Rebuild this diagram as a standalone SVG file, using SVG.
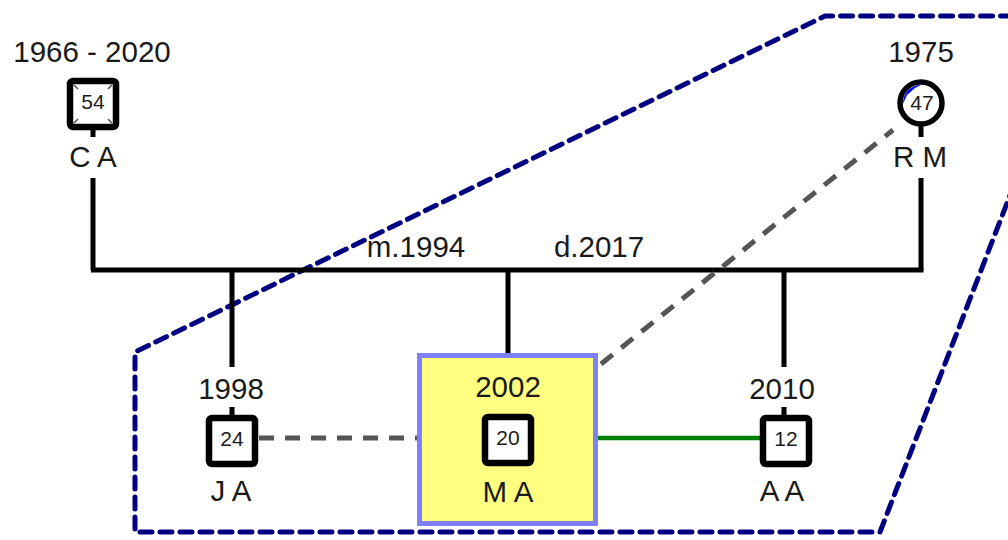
<svg xmlns="http://www.w3.org/2000/svg" width="1008" height="540" viewBox="0 0 1008 540">
<style>
  text { font-family: "Liberation Sans", Arial, sans-serif; fill: #1a1a1a; text-anchor: middle; }
  .lbl { font-size: 29.5px; }
  .num { font-size: 21px; }
  .box { fill: #ffffff; stroke: #000000; stroke-width: 6.5; }
  .stem { stroke: #000000; stroke-width: 5; }
  .tick { stroke: #444444; stroke-width: 1.2; }
  .line { stroke: #000000; stroke-width: 5; fill: none; }
  .dash { stroke: #555555; stroke-width: 5; stroke-dasharray: 15 11; fill: none; }
</style>
<rect width="1008" height="540" fill="#ffffff"/>

<polygon id="group-outline" points="1014,185 880,532 135,532 135,352 825,16 1014,16" fill="none" stroke="#000080" stroke-width="5" stroke-dasharray="12 8" stroke-linejoin="round" stroke-linecap="round"/>

<g id="connectors">
  <line class="line" x1="93" y1="178" x2="93" y2="270"/>
  <line class="line" x1="921" y1="178" x2="921" y2="270"/>
  <line class="line" x1="91" y1="270" x2="923.5" y2="270"/>
  <line class="line" x1="232" y1="270" x2="232" y2="367"/>
  <line class="line" x1="508" y1="270" x2="508" y2="355"/>
  <line class="line" x1="784" y1="270" x2="784" y2="367"/>
  <line class="dash" x1="259" y1="438" x2="418" y2="438"/>
  <line class="dash" x1="601" y1="364" x2="893" y2="130"/>
  <line x1="597" y1="438" x2="761" y2="438" stroke="#008000" stroke-width="4.5"/>
  <text class="lbl" x="416" y="257">m.1994</text>
  <text class="lbl" x="599" y="257">d.2017</text>
</g>

<g id="node-ca">
  <text class="lbl" x="92" y="62">1966 - 2020</text>
  <line class="stem" x1="93" y1="128" x2="93" y2="137"/>
  <rect class="box" x="70" y="81" width="46" height="46" rx="3"/>
  <line class="tick" x1="74" y1="85" x2="78" y2="89"/>
  <line class="tick" x1="112" y1="85" x2="108" y2="89"/>
  <line class="tick" x1="74" y1="123" x2="78" y2="119"/>
  <line class="tick" x1="112" y1="123" x2="108" y2="119"/>
  <text class="num" x="93" y="109">54</text>
  <text class="lbl" x="93" y="167">C A</text>
</g>

<g id="node-rm">
  <text class="lbl" x="921" y="62">1975</text>
  <line class="stem" x1="921" y1="124" x2="921" y2="137"/>
  <circle cx="921" cy="103" r="21" fill="#ffffff" stroke="#000000" stroke-width="5.5"/>
  <path d="M 903 104 A 18 18 0 0 1 921 85 L 915 88 L 907 95 Z" fill="#0000ff"/>
  <text class="num" x="922" y="110">47</text>
  <text class="lbl" x="920" y="167">R M</text>
</g>

<g id="node-ja">
  <text class="lbl" x="231" y="399">1998</text>
  <line class="stem" x1="232" y1="407" x2="232" y2="418"/>
  <rect class="box" x="209" y="418" width="46" height="46" rx="3"/>
  <text class="num" x="232" y="446">24</text>
  <text class="lbl" x="231" y="501">J A</text>
</g>

<g id="node-ma">
  <rect x="419.5" y="355.5" width="176" height="168" fill="#ffff80" stroke="#8080ff" stroke-width="5"/>
  <text class="lbl" x="508" y="397">2002</text>
  <rect class="box" x="485" y="417" width="46" height="46" rx="3"/>
  <text class="num" x="508" y="445">20</text>
  <text class="lbl" x="508" y="502">M A</text>
</g>

<g id="node-aa">
  <text class="lbl" x="782" y="399">2010</text>
  <line class="stem" x1="784" y1="407" x2="784" y2="418"/>
  <rect class="box" x="763" y="418" width="46" height="46" rx="3"/>
  <text class="num" x="786" y="446">12</text>
  <text class="lbl" x="782" y="501">A A</text>
</g>
</svg>
